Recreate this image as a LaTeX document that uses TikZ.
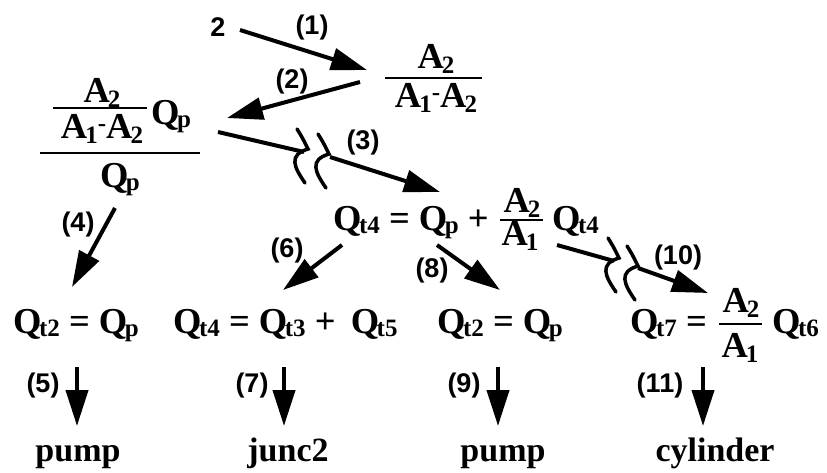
\documentclass[tikz,border=0pt]{standalone}
\usepackage{fontspec}
\setmainfont{Liberation Serif}
\newfontfamily\labfont{Liberation Sans}
\usetikzlibrary{arrows.meta}
\newcommand\eqf{\fontsize{36.5}{40}\selectfont\bfseries}
\newcommand\subf{\fontsize{25}{27}\selectfont\bfseries}
\newcommand\lbf{\labfont\fontsize{27}{30}\selectfont\bfseries}
\newcommand\wf{\fontsize{34}{36}\selectfont\bfseries}
\newcommand\Qs[1]{Q\kern-2.5pt\raisebox{-3pt}{\subf #1}}
\newcommand\As[1]{A\kern-2pt\raisebox{-5pt}{\subf #1}}
\newcommand\rdash{\raisebox{7pt}{\subf -}}
\begin{document}
\begin{tikzpicture}[x=1pt,y=-1pt,
  eq/.style={font=\eqf,inner sep=0pt,anchor=base west},
  eqc/.style={font=\eqf,inner sep=0pt,anchor=base},
  lab/.style={font=\lbf,inner sep=0pt},
  wd/.style={font=\wf,inner sep=0pt,anchor=base},
  ln/.style={line width=4pt},
  arr/.style={line width=4pt,-{Triangle[length=36pt,width=22pt]}},
  fbar/.style={line width=2.6pt},
  brk/.pic={\draw[line width=3.5pt,line cap=round] (-11,-20) .. controls (-6,-12) .. (0,0) .. controls (-20,6) and (-14,18) .. (-3,34);}
]
\useasboundingbox (0,0) rectangle (827,472);

% top
\node[lab] (n2) at (218,27) {2};
\node[eqc] (fr1n) at (436,68) {\As{2}};
\draw[fbar] (385,78) -- (482,78);
\node[eqc] (fr1d) at (436,107) {\As{1}\rdash\As{2}};

% left compound fraction
\node[eqc] (fLn) at (102,102) {\As{2}};
\draw[fbar] (53,108) -- (147,108);
\node[eqc] (fLd) at (102,138) {\As{1}\rdash\As{2}};
\node[eq] (fLq) at (151,124) {\Qs{p}};
\draw[fbar] (40,153) -- (200,153);
\node[eqc] (fLb) at (120,187) {\Qs{p}};

% middle equation
\node[eq] (m1) at (333,230) {\Qs{t4} = \Qs{p} +};
\node[eqc] (mfn) at (522,212) {\As{2}};
\draw[fbar] (500,220) -- (543,220);
\node[eqc] (mfd) at (520,245) {\As{1}};
\node[eq] (m2) at (552,230) {\Qs{t4}};

% second row
\node[eq] (r1) at (13,333) {\Qs{t2} = \Qs{p}};
\node[eq] (r2) at (173,333) {\Qs{t4} = \Qs{t3} + \,\Qs{t5}};
\node[eq] (r3) at (437,333) {\Qs{t2} = \Qs{p}};
\node[eq] (r4) at (630,333) {\Qs{t7} =};
\node[eqc] (r4n) at (741,312) {\As{2}};
\draw[fbar] (719,324) -- (762,324);
\node[eqc] (r4d) at (740,357) {\As{1}};
\node[eq] (r4q) at (772,333) {\Qs{t6}};

% bottom words
\node[wd] (w1) at (78,461) {pump};
\node[wd] (w2) at (288,461) {junc2};
\node[wd] (w3) at (503,461) {pump};
\node[wd] (w4) at (715,461) {cylinder};

% labels
\node[lab] (l1) at (312,28) {(1)};
\node[lab] (l2) at (292,82) {(2)};
\node[lab] (l3) at (363,143) {(3)};
\node[lab] (l4) at (78,225) {(4)};
\node[lab] (l6) at (287,251) {(6)};
\node[lab] (l8) at (432,271) {(8)};
\node[lab] (l10) at (678,258) {(10)};
\node[lab] (l5) at (43,386) {(5)};
\node[lab] (l7) at (252,386) {(7)};
\node[lab] (l9) at (464,386) {(9)};
\node[lab] (l11) at (660,386) {(11)};

% arrow end points
\coordinate (a1s) at (240,30);  \coordinate (a1e) at (367,70);
\coordinate (a2s) at (360,82);  \coordinate (a2e) at (227,118);
\coordinate (a3s) at (218,132); \coordinate (k3a) at (304,152);
\coordinate (k3b) at (330,157); \coordinate (a3e) at (440,192);
\coordinate (a4s) at (115,208); \coordinate (a4e) at (72,287);
\coordinate (a6s) at (342,245); \coordinate (a6e) at (283,290);
\coordinate (a8s) at (437,245); \coordinate (a8e) at (500,290);
\coordinate (a10s) at (557,245); \coordinate (k10a) at (614,261);
\coordinate (k10b) at (638,268); \coordinate (a10e) at (708,293);
\coordinate (a5s) at (77,367);  \coordinate (a5e) at (77,426);
\coordinate (a7s) at (284,367); \coordinate (a7e) at (284,426);
\coordinate (a9s) at (498,367); \coordinate (a9e) at (498,426);
\coordinate (a11s) at (703,367); \coordinate (a11e) at (703,426);

\draw[arr] (a1s) -- (a1e);
\draw[arr] (a2s) -- (a2e);
\draw[ln] (a3s) -- (k3a);
\pic at (308,149) {brk};
\pic at (329,154) {brk};
\draw[arr] (k3b) -- (a3e);
\draw[arr] (a4s) -- (a4e);
\draw[arr] (a6s) -- (a6e);
\draw[arr] (a8s) -- (a8e);
\draw[ln] (a10s) -- (k10a);
\pic at (619,258) {brk};
\pic at (638,266) {brk};
\draw[arr] (k10b) -- (a10e);
\draw[arr] (a5s) -- (a5e);
\draw[arr] (a7s) -- (a7e);
\draw[arr] (a9s) -- (a9e);
\draw[arr] (a11s) -- (a11e);
\end{tikzpicture}
\end{document}
